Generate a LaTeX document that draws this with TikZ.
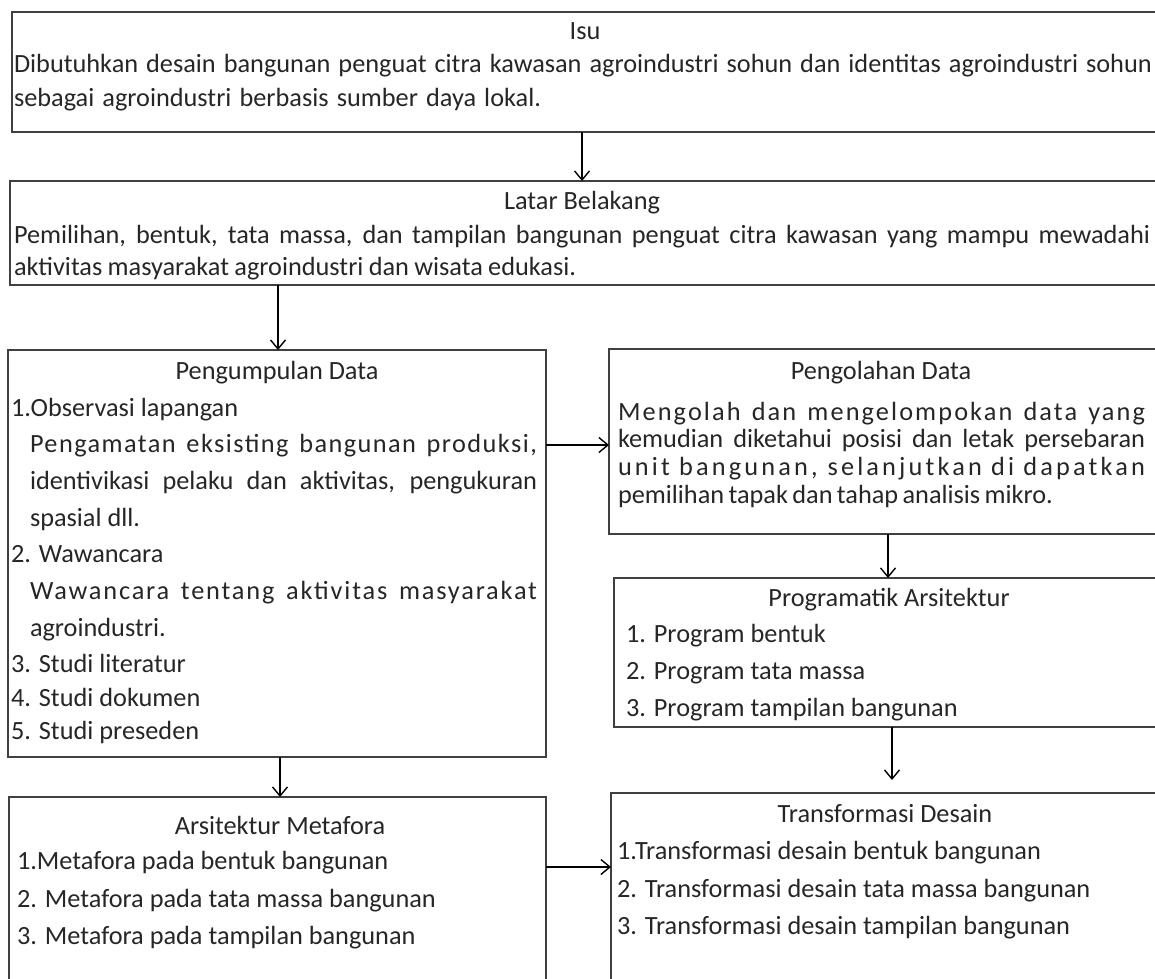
\documentclass[tikz,border=0pt]{standalone}
\usepackage{fontspec}
\setmainfont{Carlito}
\usetikzlibrary{arrows.meta}
\definecolor{ink}{HTML}{262626}
\definecolor{edge}{HTML}{404040}
\newcommand{\jl}[2]{\makebox[#1][s]{\spaceskip=0.26em plus 4em minus 0.26em\relax #2}}
\newcommand{\lsp}[3]{\makebox[#1][s]{\addfontfeature{LetterSpace=#2}\spaceskip=0.26em plus 4em minus 0.2em\relax #3}}
\tikzset{
  box/.style={draw=edge, line width=1.5pt, anchor=north west, inner sep=0pt, outer sep=0pt},
  txt/.style={anchor=base west, inner sep=0pt, outer sep=0pt, text=ink, font=\fontsize{26.3}{30}\selectfont},
  ttl/.style={txt, anchor=base},
  arr/.style={draw=black, line width=1.4pt, -{Straight Barb[length=9pt, width=15pt]}}
}
\begin{document}
\begin{tikzpicture}[x=1pt,y=-1pt]
\useasboundingbox (0,0) rectangle (1155,978);
\clip (0,0) rectangle (1155,978);
% boxes
\node[box, minimum width=1150pt, minimum height=120pt] (isu) at (12,12) {};
\node[box, minimum width=1152pt, minimum height=104pt] (latar) at (10,181) {};
\node[box, minimum width=538pt, minimum height=407pt] (kumpul) at (8,350) {};
\node[box, minimum width=553pt, minimum height=185pt] (olah) at (609,349) {};
\node[box, minimum width=548pt, minimum height=149pt] (prog) at (614,578) {};
\node[box, minimum width=537pt, minimum height=200pt] (meta) at (9,797) {};
\node[box, minimum width=551pt, minimum height=200pt] (trans) at (611,793) {};
% Isu
\node[ttl] (i0) at (585,39) {Isu};
\node[txt] (i1) at (14,72) {\jl{1138pt}{Dibutuhkan desain bangunan penguat citra kawasan agroindustri sohun dan identitas agroindustri sohun}};
\node[txt] (i2) at (14,106) {\jl{527pt}{sebagai agroindustri berbasis sumber daya lokal.}};
% Latar
\node[ttl] (l0) at (582,209) {Latar Belakang};
\node[txt] (l1) at (14,243) {\jl{1136pt}{Pemilihan, bentuk, tata massa, dan tampilan bangunan penguat citra kawasan yang mampu mewadahi}};
\node[txt] (l2) at (14,275) {\jl{562pt}{aktivitas masyarakat agroindustri dan wisata edukasi.}};
% Pengumpulan
\node[ttl] (k0) at (277,379) {Pengumpulan Data};
\node[txt] (k1) at (11,416) {1.Observasi lapangan};
\node[txt] (k2) at (30,452) {\lsp{507pt}{5.5}{Pengamatan eksisting bangunan produksi,}};
\node[txt] (k3) at (30,489) {\jl{507pt}{identivikasi pelaku dan aktivitas, pengukuran}};
\node[txt] (k4) at (30,526) {spasial dll.};
\node[txt] (k5) at (11,562) {2. Wawancara};
\node[txt] (k6) at (30,599) {\lsp{507pt}{7}{Wawancara tentang aktivitas masyarakat}};
\node[txt] (k7) at (30,636) {agroindustri.};
\node[txt] (k8) at (11,672) {3. Studi literatur};
\node[txt] (k9) at (11,706) {4. Studi dokumen};
\node[txt] (k10) at (11,739) {5. Studi preseden};
% Pengolahan
\node[ttl] (o0) at (881,379) {Pengolahan Data};
\node[txt] (o1) at (618,420) {\lsp{527pt}{8}{Mengolah dan mengelompokan data yang}};
\node[txt] (o2) at (618,447) {\jl{527pt}{kemudian diketahui posisi dan letak persebaran}};
\node[txt] (o3) at (618,475) {\lsp{527pt}{12}{unit bangunan, selanjutkan di dapatkan}};
\node[txt] (o4) at (618,503) {\jl{435pt}{pemilihan tapak dan tahap analisis mikro.}};
% Programatik
\node[ttl] (p0) at (889,606) {Programatik Arsitektur};
\node[txt] (p1) at (626,642) {1. Program bentuk};
\node[txt] (p2) at (626,679) {2. Program tata massa};
\node[txt] (p3) at (626,716) {3. Program tampilan bangunan};
% Metafora
\node[ttl] (m0) at (280,834) {Arsitektur Metafora};
\node[txt] (m1) at (17,869) {1.Metafora pada bentuk bangunan};
\node[txt] (m2) at (17,907) {2. Metafora pada tata massa bangunan};
\node[txt] (m3) at (17,944) {3. Metafora pada tampilan bangunan};
% Transformasi
\node[ttl] (t0) at (885,822) {Transformasi Desain};
\node[txt] (t1) at (617,859) {1.Transformasi desain bentuk bangunan};
\node[txt] (t2) at (617,897) {2. Transformasi desain tata massa bangunan};
\node[txt] (t3) at (617,934) {3. Transformasi desain tampilan bangunan};
% connectors
\coordinate (c1) at (582,0);
\coordinate (c2) at (278,0);
\coordinate (c3) at (0,445);
\coordinate (c4) at (888,0);
\coordinate (c5) at (892,0);
\coordinate (c6) at (280,0);
\coordinate (c7) at (0,867);
\draw[arr] (c1 |- isu.south) -- (c1 |- latar.north);
\draw[arr] (c2 |- latar.south) -- (c2 |- kumpul.north);
\draw[arr] (c3 -| kumpul.east) -- (c3 -| olah.west);
\draw[arr] (c4 |- olah.south) -- (c4 |- prog.north);
\draw[arr, shorten >=13pt] (c5 |- prog.south) -- (c5 |- trans.north);
\draw[arr] (c6 |- kumpul.south) -- (c6 |- meta.north);
\draw[arr] (c7 -| meta.east) -- (c7 -| trans.west);
\end{tikzpicture}
\end{document}
